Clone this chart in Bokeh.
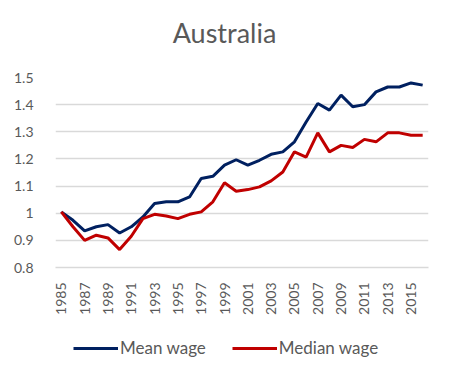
from bokeh.plotting import figure
from bokeh.layouts import column
from bokeh.models import Range1d, FixedTicker, CustomJSTickFormatter, Legend, LegendItem, ColumnDataSource, Label
from bokeh.embed import file_html
from bokeh.resources import INLINE
import math

years = list(range(1985, 2017))
mean_wage = [1.005, 0.974, 0.935, 0.950, 0.958, 0.927, 0.950, 0.986, 1.036, 1.042,
             1.042, 1.060, 1.128, 1.136, 1.177, 1.197, 1.177, 1.195, 1.217, 1.226,
             1.263, 1.336, 1.404, 1.380, 1.435, 1.392, 1.400, 1.447, 1.465, 1.465,
             1.480, 1.472]
median_wage = [1.005, 0.950, 0.900, 0.919, 0.909, 0.866, 0.915, 0.980, 0.996, 0.990,
               0.980, 0.996, 1.005, 1.042, 1.112, 1.081, 1.087, 1.097, 1.119, 1.152,
               1.226, 1.207, 1.296, 1.226, 1.250, 1.242, 1.272, 1.263, 1.296, 1.296,
               1.287, 1.287]
x_tick_years = list(range(1985, 2016, 2))
y_ticks = [0.8, 0.9, 1.0, 1.1, 1.2, 1.3, 1.4, 1.5]
series_names = ["Mean wage", "Median wage"]
series_colors = ["#002060", "#c00000"]
chart_title = "Australia"

src = ColumnDataSource(dict(year=years, mean=mean_wage, median=median_wage))

TXT = "#595959"
FONT = "Lato"
W = 433
FRAME_W = 373


def strip(height):
    f = figure(width=W, height=height, output_backend="svg", toolbar_location=None,
               x_range=Range1d(0, FRAME_W), y_range=Range1d(0, height),
               x_axis_location=None, y_axis_location=None,
               min_border_left=0, min_border_right=0, min_border_top=0, min_border_bottom=0)
    f.outline_line_color = None
    f.xgrid.grid_line_color = None
    f.ygrid.grid_line_color = None
    return f

# title strip
tf = strip(50)
tf.add_layout(Label(x=169, y=18, text=chart_title, text_align="center", text_baseline="middle",
                    text_font=FONT, text_font_size="27px", text_color=TXT))

# main chart
p = figure(width=W, height=280, output_backend="svg", toolbar_location=None,
           x_range=Range1d(1984.5, 2016.5), y_range=Range1d(0.8, 1.5),
           min_border_left=55, min_border_right=5, min_border_top=27, min_border_bottom=63)
p.outline_line_color = None

p.xgrid.grid_line_color = None
p.ygrid.grid_line_color = "#d9d9d9"
p.ygrid.grid_line_width = 1.5
p.ygrid.ticker = FixedTicker(ticks=y_ticks)

p.yaxis.ticker = FixedTicker(ticks=y_ticks)
p.yaxis.formatter = CustomJSTickFormatter(code="return String(Math.round(tick*10)/10);")
p.yaxis.axis_line_color = None
p.yaxis.major_tick_line_color = None
p.yaxis.minor_tick_line_color = None
p.yaxis.major_label_text_font = FONT
p.yaxis.major_label_text_font_size = "14px"
p.yaxis.major_label_text_color = TXT
p.yaxis.major_label_standoff = 16

p.xaxis.ticker = FixedTicker(ticks=x_tick_years)
p.xaxis.formatter = CustomJSTickFormatter(code="return String(tick);")
p.xaxis.axis_line_color = "#d9d9d9"
p.xaxis.axis_line_width = 1.5
p.xaxis.major_tick_line_color = None
p.xaxis.minor_tick_line_color = None
p.xaxis.major_label_orientation = math.pi / 2
p.xaxis.major_label_text_font = FONT
p.xaxis.major_label_text_font_size = "14px"
p.xaxis.major_label_text_color = TXT
p.xaxis.major_label_standoff = 9

p.line("year", "mean", source=src, line_color=series_colors[0], line_width=3)
p.line("year", "median", source=src, line_color=series_colors[1], line_width=3)

# legend strip below the chart
lg = strip(36)
d1 = lg.line(x=[-20, -10], y=[-20, -10], line_color=series_colors[0], line_width=3)
d2 = lg.line(x=[-20, -10], y=[-20, -10], line_color=series_colors[1], line_width=3)
legend = Legend(items=[LegendItem(label=series_names[0], renderers=[d1]),
                       LegendItem(label=series_names[1], renderers=[d2])],
                orientation="horizontal", location=(18, 8),
                padding=0, margin=0, spacing=26, label_standoff=2,
                glyph_width=45, glyph_height=20,
                label_text_font=FONT, label_text_font_size="17px", label_text_color=TXT,
                border_line_alpha=0, background_fill_alpha=0)
lg.add_layout(legend)

layout = column(tf, p, lg, spacing=0)
open("out.html", "w").write(file_html(layout, INLINE))
